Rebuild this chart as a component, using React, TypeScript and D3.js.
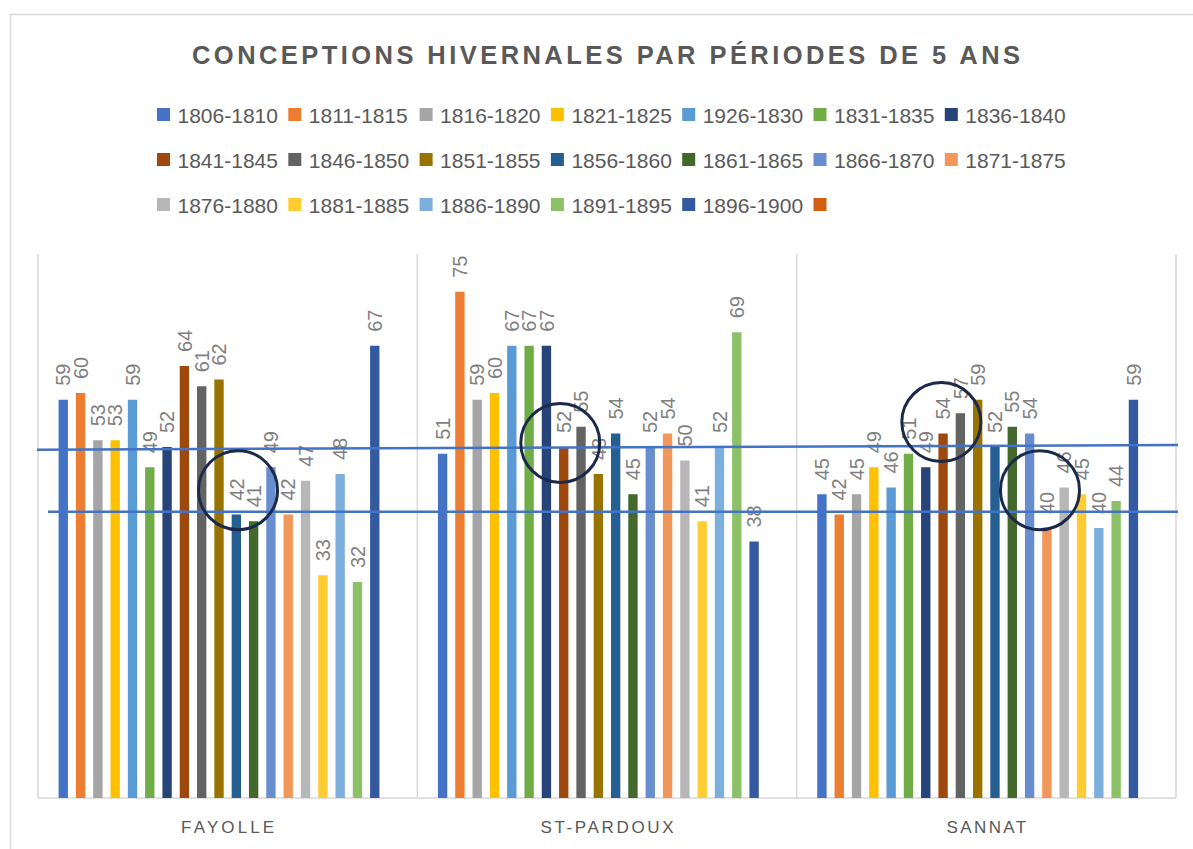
import React from "react";
import * as d3 from "d3";

const categories = ["FAYOLLE", "ST-PARDOUX", "SANNAT"];
const seriesNames = [
  "1806-1810", "1811-1815", "1816-1820", "1821-1825", "1926-1830", "1831-1835", "1836-1840",
  "1841-1845", "1846-1850", "1851-1855", "1856-1860", "1861-1865", "1866-1870", "1871-1875",
  "1876-1880", "1881-1885", "1886-1890", "1891-1895", "1896-1900", "",
];
const colors = [
  "#4472C4", "#ED7D31", "#A5A5A5", "#FFC000", "#5B9BD5", "#70AD47", "#264478",
  "#9E480E", "#636363", "#997300", "#255E91", "#43682B", "#698ED0", "#F1975A",
  "#B7B7B7", "#FFCD33", "#7CAFDD", "#8CC168", "#335AA1", "#D26012",
];
const fayolle = [59, 60, 53, 53, 59, 49, 52, 64, 61, 62, 42, 41, 49, 42, 47, 33, 48, 32, 67];
const stPardoux = [51, 75, 59, 60, 67, 67, 67, 52, 55, 48, 54, 45, 52, 54, 50, 41, 52, 69, 38];
const sannat = [45, 42, 45, 49, 46, 51, 49, 54, 57, 59, 52, 55, 54, 40, 46, 45, 40, 44, 59];
const groupValues = [fayolle, stPardoux, sannat];

// annotation circles: category, slot (fractional series position), value at centre
const circleCats = ["FAYOLLE", "ST-PARDOUX", "SANNAT", "SANNAT"];
const circleSlots = [10.1, 6.8, 6.9, 12.6];
const circleValues = [45.6, 52.6, 55.7, 45.6];
// annotation lines (values at left / right)
const lineLeftValues = [51.6, 42.4];
const lineRightValues = [52.3, 42.4];

const W = 1193;
const H = 849;
const plotLeft = 38;
const plotRight = 1176;
const plotTop = 254;
const plotBottom = 798;
const font = "'Liberation Sans', Arial, sans-serif";

export default function App() {
  const x0 = d3.scaleBand<string>().domain(categories).range([plotLeft, plotRight]);
  const x1 = d3
    .scaleBand<string>()
    .domain(seriesNames.map((_, i) => String(i)))
    .range([0, x0.bandwidth()])
    .paddingInner(0.46)
    .paddingOuter(1.19);
  const y = d3.scaleLinear().domain([0, 80]).range([plotBottom, 258]);
  const step = x1.step();
  const slotX = (cat: string, slot: number) =>
    (x0(cat) as number) + (x1("0") as number) + x1.bandwidth() / 2 + slot * step;

  const legendRows = [seriesNames.slice(0, 7), seriesNames.slice(7, 14), seriesNames.slice(14, 20)];
  const legendColStep = 131.3;
  const legendX0 = 157;
  const legendY = [115, 160, 205];

  const separators = [plotLeft, ...categories.map((c) => (x0(c) as number) + x0.bandwidth())];

  return (
    <svg
      width={W}
      height={H}
      style={{ position: "absolute", left: 0, top: 0, background: "#fff" }}
      fontFamily={font}
    >
      <rect x={0} y={0} width={W} height={H} fill="#fff" />
      <rect x={10.5} y={14.5} width={1300} height={1000} fill="none" stroke="#D9D9D9" strokeWidth={1.5} />

      <text
        x={192}
        y={64}
        fontSize={25.5}
        fontWeight="bold"
        fill="#595959"
        textLength={828}
        lengthAdjust="spacing"
      >
        CONCEPTIONS HIVERNALES PAR PÉRIODES DE 5 ANS
      </text>

      {legendRows.map((row, r) =>
        row.map((name, j) => {
          const idx = r * 7 + j;
          const lx = legendX0 + j * legendColStep;
          return (
            <g key={`lg${idx}`}>
              <rect x={lx} y={legendY[r] - 7} width={13} height={13} fill={colors[idx]} />
              <text x={lx + 20.5} y={legendY[r]} dy="0.36em" fontSize={21} fill="#595959">
                {name}
              </text>
            </g>
          );
        })
      )}

      {separators.map((sx, i) => (
        <line key={`sep${i}`} x1={sx} x2={sx} y1={plotTop} y2={plotBottom} stroke="#D9D9D9" strokeWidth={1.5} />
      ))}
      <line x1={plotLeft} x2={plotRight} y1={plotBottom} y2={plotBottom} stroke="#D9D9D9" strokeWidth={1.5} />

      {categories.map((cat, ci) => (
        <g key={cat} transform={`translate(${x0(cat)},0)`}>
          {groupValues[ci].map((v, si) => {
            const bx = x1(String(si)) as number;
            return (
              <rect
                key={`b${si}`}
                x={bx}
                y={y(v)}
                width={x1.bandwidth()}
                height={plotBottom - y(v)}
                fill={colors[si]}
              />
            );
          })}
          {groupValues[ci].map((v, si) => {
            const cx = (x1(String(si)) as number) + x1.bandwidth() / 2;
            const ty = y(v) - 14;
            return (
              <text
                key={`l${si}`}
                transform={`translate(${cx},${ty}) rotate(-90)`}
                dy="0.36em"
                fontSize={20}
                fill="#7F7F7F"
              >
                {v}
              </text>
            );
          })}
        </g>
      ))}

      {categories.map((cat) => {
        const cx = (x0(cat) as number) + x0.bandwidth() / 2;
        const len = cat.length * 13.3;
        return (
          <text
            key={`c${cat}`}
            x={cx - len / 2}
            y={833}
            fontSize={17}
            fill="#595959"
            textLength={len}
            lengthAdjust="spacing"
          >
            {cat}
          </text>
        );
      })}

      {lineLeftValues.map((lv, i) => (
        <line
          key={`al${i}`}
          x1={i === 0 ? plotLeft - 1 : plotLeft + 10}
          x2={plotRight + 2}
          y1={y(lv)}
          y2={y(lineRightValues[i])}
          stroke="#4472C4"
          strokeWidth={2.5}
        />
      ))}

      {circleCats.map((cat, i) => (
        <circle
          key={`ci${i}`}
          cx={slotX(cat, circleSlots[i])}
          cy={y(circleValues[i])}
          r={39.5}
          fill="none"
          stroke="#1B2A4A"
          strokeWidth={3}
        />
      ))}
    </svg>
  );
}
